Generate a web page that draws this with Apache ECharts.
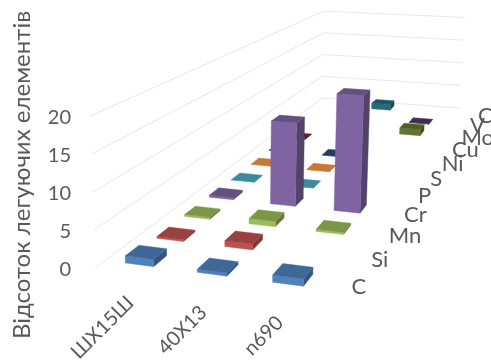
<!DOCTYPE html>
<html>
<head>
<meta charset="utf-8">
<style>html,body{margin:0;padding:0;background:#fff}#c{width:491px;height:361px}</style>
<script src="https://cdn.jsdelivr.net/npm/echarts@6/dist/echarts.min.js"></script>
</head>
<body>
<div id="c"></div>
<script>
const steels = ['ШХ15Ш', '40Х13', 'n690'];
const elements = ['C', 'Si', 'Mn', 'Cr', 'P', 'S', 'Ni', 'Cu', 'Mo', 'V', 'Co'];
const valueTicks = [0, 5, 10, 15, 20];

// Alloying content of each element, one entry per steel (null = no bar)
const pctC  = [0.95, 0.4, 0.9];
const pctSi = [0.25, 0.8, null];
const pctMn = [0.3, 0.8, 0.3];
const pctCr = [0.3, 13, 18];
const pctP  = [0.03, 0.03, null];
const pctS  = [0.03, 0.03, null];
const pctNi = [0.03, 0.03, null];
const pctCu = [0.03, null, null];
const pctMo = [null, null, 1.2];
const pctV  = [null, null, 0.1];
const pctCo = [null, 1.2, null];
const byElement = [pctC, pctSi, pctMn, pctCr, pctP, pctS, pctNi, pctCu, pctMo, pctV, pctCo];

const faceColors = ['#4F81BD', '#C0504D', '#9BBB59', '#8064A2', '#4BACC6', '#F79646',
                    '#2C4D75', '#772C2A', '#5F7530', '#4D3B62', '#276A7C'];
const textColor = '#595959';
const font = 'Lato';

// Floor of the 3D box on screen: front-left, front-right, back-right, back-left
const FL = [95, 268], FR = [327, 299], BR = [460, 108], BL = [322, 98];
const VANISH = [225, 4678];   // verticals converge far below the chart

// Perspective mapping of the unit floor square
const dx1 = FR[0] - BR[0], dx2 = BL[0] - BR[0], sx = FL[0] - FR[0] + BR[0] - BL[0];
const dy1 = FR[1] - BR[1], dy2 = BL[1] - BR[1], sy = FL[1] - FR[1] + BR[1] - BL[1];
const den = dx1 * dy2 - dx2 * dy1;
const g = (sx * dy2 - dx2 * sy) / den, h = (dx1 * sy - sx * dy1) / den;
const a = FR[0] - FL[0] + g * FR[0], b = BL[0] - FL[0] + h * BL[0];
const d = FR[1] - FL[1] + g * FR[1], e = BL[1] - FL[1] + h * BL[1];

// u across the steels, v into the depth, px = height on the front-left scale
function project(u, v, px) {
  const w = g * u + h * v + 1;
  const x = (a * u + b * v + FL[0]) / w, y = (d * u + e * v + FL[1]) / w;
  const dy = px / w;
  return [x + (x - VANISH[0]) / (VANISH[1] - y) * dy, y - dy];
}

function shade(hex, f) {
  const n = parseInt(hex.slice(1), 16);
  const c = [n >> 16, (n >> 8) & 255, n & 255].map(v => Math.round(v * f));
  return 'rgb(' + c.join(',') + ')';
}

const BAR_U = 0.39, BAR_V = 0.42;   // share of the cell taken by a bar

// Columns sit slightly left of the box centre; their captions a little further
function colCentre(col) { return (col + 0.5) / steels.length * 0.98 - 0.004; }
function captionCentre(col) { return (col + 0.5) / steels.length * 0.97 - 0.008; }

function renderBar(params, api) {
  const col = api.value(0), val = api.value(1), row = api.value(2);
  const px = api.size([0, val])[1];
  const cu = colCentre(col), cv = (row + 0.5) / elements.length;
  const hu = BAR_U / steels.length / 2, hv = BAR_V / elements.length / 2;
  const u0 = cu - hu, u1 = cu + hu, v0 = cv - hv, v1 = cv + hv;
  const base = faceColors[row];
  const face = (pts, fill) => ({
    type: 'polygon', shape: { points: pts },
    style: { fill: fill, stroke: fill, lineWidth: 0.4 }
  });
  return {
    type: 'group',
    children: [
      face([project(u1, v0, 0), project(u1, v1, 0), project(u1, v1, px), project(u1, v0, px)], shade(base, 0.66)),
      face([project(u0, v0, 0), project(u1, v0, 0), project(u1, v0, px), project(u0, v0, px)], base),
      face([project(u0, v0, px), project(u1, v0, px), project(u1, v1, px), project(u0, v1, px)], shade(base, 0.8))
    ]
  };
}

function renderGridLine(params, api) {
  const px = api.size([0, api.value(1)])[1];
  return {
    type: 'polyline',
    shape: { points: [project(0, 0, px), project(0, 1, px), project(1, 1, px)] },
    style: { fill: 'none', stroke: '#E8E8E8', lineWidth: 1 }
  };
}

function renderSteelLabel(params, api) {
  const col = api.value(0);
  const p = project(captionCentre(col), 0, 0);
  return {
    type: 'text', x: p[0] + 2, y: p[1] + 27, rotation: Math.PI / 4,
    style: { text: steels[col], align: 'right', verticalAlign: 'middle',
             fill: textColor, font: '20px ' + font }
  };
}

function renderElementLabel(params, api) {
  const row = api.value(0);
  const p = project(1, (row + 0.5) / elements.length, 0);
  return {
    type: 'text', x: p[0] + 14 + 0.75 * row, y: p[1] + 3,
    style: { text: elements[row], align: 'left', verticalAlign: 'middle',
             fill: textColor, font: '22px ' + font }
  };
}

const barData = [];
for (let r = elements.length - 1; r >= 0; r--) {
  byElement[r].forEach((v, c) => { if (v !== null) barData.push([c, v, r]); });
}

const chart = echarts.init(document.getElementById('c'), null, { renderer: 'canvas' });
chart.setOption({
  animation: false,
  backgroundColor: '#fff',
  grid: { left: 72, top: 118, width: 300, height: 152, containLabel: false },
  xAxis: { type: 'category', data: steels, show: false },
  yAxis: {
    type: 'value', min: 0, max: 20, interval: 5,
    axisLine: { show: false }, axisTick: { show: false }, splitLine: { show: false },
    axisLabel: { color: textColor, fontFamily: font, fontSize: 20, margin: 1,
                 formatter: v => valueTicks.includes(v) ? String(v) : '' },
    name: 'Відсоток легуючих елементів',
    nameLocation: 'middle', nameGap: 38, nameRotate: 90,
    nameTextStyle: { color: textColor, fontFamily: font, fontSize: 24, padding: [0, 0, 0, 38] }
  },
  series: [
    { type: 'custom', renderItem: renderGridLine, clip: false, silent: true,
      data: valueTicks.map(t => [0, t]), encode: { x: 0, y: 1 }, z: 1 },
    { type: 'custom', renderItem: renderBar, clip: false, silent: true,
      data: barData, encode: { x: 0, y: 1 }, z: 2 },
    { type: 'custom', renderItem: renderSteelLabel, clip: false, silent: true,
      data: steels.map((s, i) => [i, 0]), encode: { x: 0, y: 1 }, z: 3 },
    { type: 'custom', renderItem: renderElementLabel, clip: false, silent: true,
      data: elements.map((s, i) => [i, 0]), encode: { y: 1 }, z: 3 }
  ]
});
</script>
</body>
</html>
